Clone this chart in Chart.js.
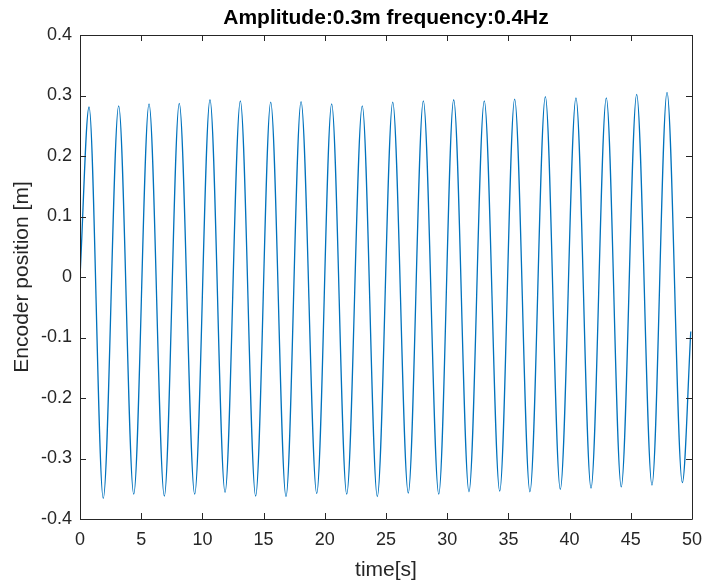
<!DOCTYPE html>
<html>
<head>
<meta charset="utf-8">
<script src="https://cdn.jsdelivr.net/npm/chart.js@4"></script>
<style>
  body { margin: 0; background: #fff; }
  canvas { display: block; }
</style>
</head>
<body>
<canvas id="encoderChart" width="702" height="583"></canvas>
<script>
'use strict';

// values (time in s, position in m)
const startPoint = { t: 0, y: 0 };
const endPoint = { t: 49.9, y: -0.09 };

const peakTimes = [0.74, 3.16, 5.64, 8.11, 10.62, 13.10, 15.58, 18.06, 20.56, 23.06,
                   25.55, 28.05, 30.53, 33.03, 35.51, 38.02, 40.52, 43.00, 45.48, 47.96];
const peakValues = [0.281, 0.283, 0.286, 0.287, 0.293, 0.291, 0.289, 0.290, 0.286, 0.283,
                    0.289, 0.291, 0.293, 0.291, 0.294, 0.298, 0.296, 0.296, 0.302, 0.305];

const troughTimes = [1.90, 4.39, 6.89, 9.37, 11.85, 14.35, 16.83, 19.34, 21.79, 24.29,
                     26.82, 29.31, 31.78, 34.29, 36.76, 39.24, 41.75, 44.22, 46.73, 49.21];
const troughValues = [-0.366, -0.359, -0.362, -0.359, -0.356, -0.362, -0.363, -0.358, -0.359, -0.363,
                      -0.357, -0.359, -0.355, -0.354, -0.355, -0.351, -0.349, -0.347, -0.344, -0.340];

const xTicks = [0, 5, 10, 15, 20, 25, 30, 35, 40, 45, 50];
const yTicks = [-0.4, -0.3, -0.2, -0.1, 0, 0.1, 0.2, 0.3, 0.4];

const axisColor = '#262626';

const buildPoints = () => {
    const pts = [{ x: startPoint.t, y: startPoint.y }];
    peakTimes.forEach((t, i) => {
        pts.push({ x: t, y: peakValues[i] });
        pts.push({ x: troughTimes[i], y: troughValues[i] });
    });
    pts.push({ x: endPoint.t, y: endPoint.y });
    return pts;
};

// box round the axes with inward ticks, like the original figure
const boxPlugin = {
    id: 'boxAxes',
    afterDraw(chart) {
        const { ctx, chartArea: a, scales } = chart;
        const len = 6;
        ctx.save();
        ctx.strokeStyle = axisColor;
        ctx.lineWidth = 1;
        ctx.beginPath();
        ctx.rect(Math.round(a.left) + 0.5, Math.round(a.top) + 0.5,
                 Math.round(a.right - a.left), Math.round(a.bottom - a.top));
        xTicks.forEach(v => {
            const x = Math.round(scales.x.getPixelForValue(v)) + 0.5;
            ctx.moveTo(x, a.bottom); ctx.lineTo(x, a.bottom - len);
            ctx.moveTo(x, a.top); ctx.lineTo(x, a.top + len);
        });
        yTicks.forEach(v => {
            const y = Math.round(scales.y.getPixelForValue(v)) + 0.5;
            ctx.moveTo(a.left, y); ctx.lineTo(a.left + len, y);
            ctx.moveTo(a.right, y); ctx.lineTo(a.right - len, y);
        });
        ctx.stroke();
        ctx.restore();
    }
};

new Chart('encoderChart', {
    type: 'line',
    data: {
        datasets: [{
            label: 'Encoder position',
            data: buildPoints(),
            borderColor: '#0072BD',
            borderWidth: 1.3,
            pointRadius: 0,
            cubicInterpolationMode: 'monotone',
            fill: false
        }]
    },
    options: {
        responsive: false,
        animation: false,
        devicePixelRatio: 1,
        layout: { padding: { left: 0, right: 10, top: 0, bottom: 0 } },
        plugins: {
            legend: { display: false },
            tooltip: { enabled: false },
            title: {
                display: true,
                fullSize: false,
                text: 'Amplitude:0.3m frequency:0.4Hz',
                color: '#000',
                font: { family: 'Liberation Sans', size: 21, weight: 'bold' },
                padding: { top: 5.8, bottom: 4 }
            }
        },
        scales: {
            x: {
                type: 'linear',
                min: 0,
                max: 50,
                afterBuildTicks: s => { s.ticks = xTicks.map(v => ({ value: v })); },
                afterFit: s => { s.height = 64; s.paddingLeft = 0; s.paddingRight = 0; },
                grid: { display: false, drawTicks: false },
                border: { display: false },
                ticks: {
                    padding: 10,
                    color: axisColor,
                    maxRotation: 0,
                    font: { family: 'Liberation Sans', size: 18 },
                    callback: v => String(v)
                },
                title: {
                    display: true,
                    text: 'time[s]',
                    color: axisColor,
                    font: { family: 'Liberation Sans', size: 21 },
                    padding: { top: 0, bottom: 0 }
                }
            },
            y: {
                min: -0.4,
                max: 0.4,
                afterBuildTicks: s => { s.ticks = yTicks.map(v => ({ value: v })); },
                afterFit: s => { s.width = 80; s.paddingTop = 0; s.paddingBottom = 0; },
                grid: { display: false, drawTicks: false },
                border: { display: false },
                ticks: {
                    padding: 8,
                    color: axisColor,
                    font: { family: 'Liberation Sans', size: 18 },
                    callback: v => String(Math.round(v * 10) / 10)
                },
                title: {
                    display: true,
                    text: 'Encoder position [m]',
                    color: axisColor,
                    font: { family: 'Liberation Sans', size: 21 },
                    padding: { top: 10, bottom: 0 }
                }
            }
        }
    },
    plugins: [boxPlugin]
});
</script>
</body>
</html>
